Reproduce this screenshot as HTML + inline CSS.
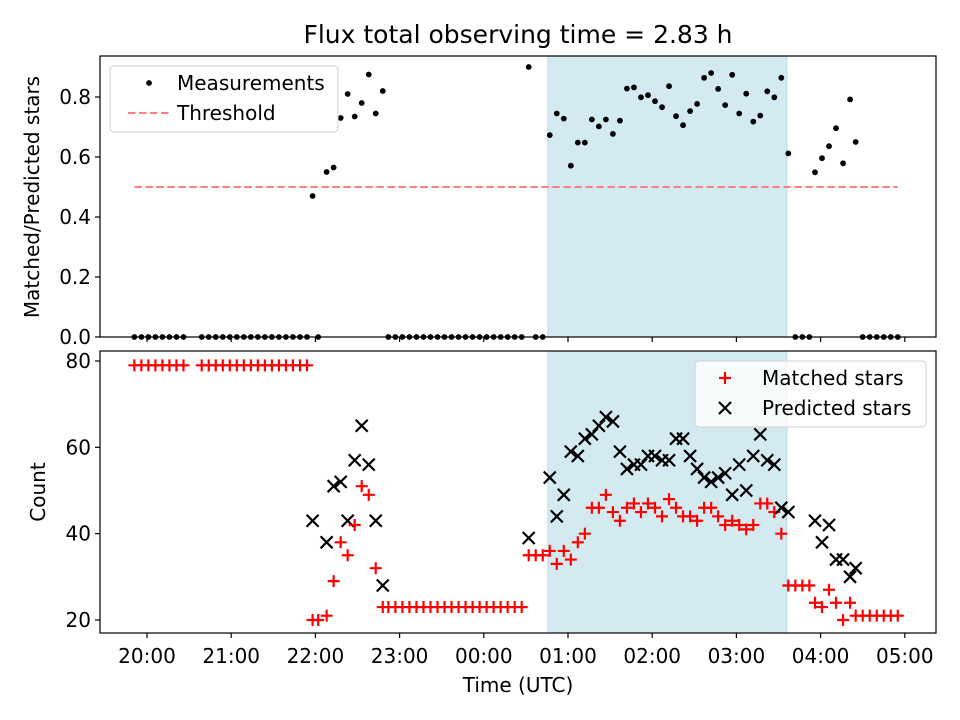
<!DOCTYPE html>
<html><head><meta charset="utf-8"><style>
html,body{margin:0;padding:0;background:#fff;}
svg{display:block;font-family:"DejaVu Sans","Liberation Sans",sans-serif;}
</style></head><body>
<svg id="chart" width="960" height="720" viewBox="0 0 960 720">
<rect width="960" height="720" fill="#fff"/>
<text x="518" y="43" font-size="25" text-anchor="middle">Flux total observing time = 2.83 h</text>
<g id="topPanel"></g>
<g id="botPanel"></g>
<text x="518" y="692" font-size="20" text-anchor="middle">Time (UTC)</text>
<text transform="translate(39,197) rotate(-90)" font-size="20" text-anchor="middle">Matched/Predicted stars</text>
<text transform="translate(45,492) rotate(-90)" font-size="20" text-anchor="middle">Count</text>
</svg>
<script>
// minutes after 20:00 UTC
const times = [-9,-4,1,6,11,16,21,26, 39,44,49,54,59,64,69,74,79,84,89,94,99,104,109,114, 118,122,128,133,138,143,148,153,158,163,168, 172,177,182,187,192,197,202,207,212,217,222,227,232,237,242,247,252,257,262,267, 272,277,282, 287,292,297,302,307,312,317,322,327,332,337,342,347,352,357,362,367,372,377,382,387,392,397,402,407,412,417,422,427,432,437,442,447,452,457, 462,467,472, 476,481,486,491,496,501,505, 510,515,520,525,530,535];
const ratio = [0,0,0,0,0,0,0,0, 0,0,0,0,0,0,0,0,0,0,0,0,0,0,0,0, .47,0,.55,.565,.73,.81,.735,.78,.875,.745,.82, 0,0,0,0,0,0,0,0,0,0,0,0,0,0,0,0,0,0,0,0, .9,0,0, .673,.745,.728,.571,.648,.648,.725,.702,.725,.677,.721,.828,.832,.799,.806,.786,.766,.836,.736,.706,.753,.777,.864,.880,.827,.773,.874,.745,.811,.718,.738,.819,.799,.864,.612, 0,0,0, .549,.596,.636,.696,.579,.792,.650, 0,0,0,0,0,0];
const matched = [79,79,79,79,79,79,79,79, 79,79,79,79,79,79,79,79,79,79,79,79,79,79,79,79, 20,20,21,29,38,35,42,51,49,32,23, 23,23,23,23,23,23,23,23,23,23,23,23,23,23,23,23,23,23,23,23, 35,35,35, 36,33,36,34,38,40,46,46,49,45,43,46,47,45,47,46,44,48,46,44,44,43,46,46,44,42,43,42,41,42,47,47,45,40,28, 28,28,28, 24,23,27,24,20,24,21, 21,21,21,21,21,21];
const predicted = [null,null,null,null,null,null,null,null, null,null,null,null,null,null,null,null,null,null,null,null,null,null,null,null, 43,null,38,51,52,43,57,65,56,43,28, null,null,null,null,null,null,null,null,null,null,null,null,null,null,null,null,null,null,null,null, 39,null,null, 53,44,49,59,58,62,63,65,67,66,59,55,56,56,58,58,57,57,62,62,58,55,53,52,53,54,49,56,50,58,63,57,56,46,45, null,null,null, 43,38,42,34,34,30,32, null,null,null,null,null,null];
const threshold = 0.5;
const shadeRange = [285.7, 456];
const xTickLabels = ["20:00","21:00","22:00","23:00","00:00","01:00","02:00","03:00","04:00","05:00"];
const xTickValues = [0,60,120,180,240,300,360,420,480,540];
const ratioTicks = [0,0.2,0.4,0.6,0.8];
const countTicks = [20,40,60,80];

const NS="http://www.w3.org/2000/svg";
function mk(p,tag,attrs){const e=document.createElementNS(NS,tag);for(const k in attrs)e.setAttribute(k,attrs[k]);p.appendChild(e);return e;}
const L=100,R=936;
const xs=m=>147+m*84.2/60;
const topG=document.getElementById('topPanel'), botG=document.getElementById('botPanel');
const T={y0:56,y1:337}, B={y0:351,y1:633};
const yr=v=>337-v*300;
const yc=v=>361+(80-v)*259/60;
const S=6;

function panel(g,P,ticks,yf,fmt,showXLabels,nm){
  const sh=mk(g,'rect',{x:xs(shadeRange[0]),y:P.y0,width:xs(shadeRange[1])-xs(shadeRange[0]),height:P.y1-P.y0,fill:'#d4eaf1',stroke:'#b8dbe6','stroke-width':1});
  
  
  ticks.forEach(v=>{
    const y=yf(v);
    mk(g,'line',{x1:L-5,x2:L,y1:y,y2:y,stroke:'#000','stroke-width':1.2});
    const t=mk(g,'text',{x:L-9,y:y+7,'font-size':20,'text-anchor':'end'});
    t.textContent=fmt(v);
    
    
  });
  xTickValues.forEach((v,i)=>{
    const x=xs(v);
    mk(g,'line',{x1:x,x2:x,y1:P.y1,y2:P.y1+5,stroke:'#000','stroke-width':1.2});
    if(showXLabels){const t=mk(g,'text',{x:x,y:P.y1+30,'font-size':20,'text-anchor':'middle'});t.textContent=xTickLabels[i];
      
      }
  });
}
panel(topG,T,ratioTicks,yr,v=>v.toFixed(1),false,'top');
panel(botG,B,countTicks,yc,v=>String(v),true,'bottom');

const th=mk(topG,'line',{x1:xs(times[0]),x2:xs(times[times.length-1]),y1:yr(threshold),y2:yr(threshold),stroke:'#ff8080','stroke-width':2,'stroke-dasharray':'7.5,3.5'});



times.forEach((m,i)=>{
  const x=xs(m);
  const c=mk(topG,'circle',{cx:x,cy:yr(ratio[i]),r:2.9,fill:'#000'});
  
  
  const y=yc(matched[i]);
  const p=mk(botG,'path',{d:`M${x-S},${y}H${x+S}M${x},${y-S}V${y+S}`,stroke:'#ff0000','stroke-width':2.2,fill:'none'});
  
  
  if(predicted[i]!=null){
    const yy=yc(predicted[i]);
    const q=mk(botG,'path',{d:`M${x-S},${yy-S}L${x+S},${yy+S}M${x-S},${yy+S}L${x+S},${yy-S}`,stroke:'#000','stroke-width':2.2,fill:'none'});
    
    
  }
});

[[topG,T],[botG,B]].forEach(([g,P])=>{
  const f=mk(g,'rect',{x:L,y:P.y0,width:R-L,height:P.y1-P.y0,fill:'none',stroke:'#000','stroke-width':1.2});
  
  
});

function legend(g,x,y,w,h,items,nm){
  const lg=mk(g,'g',{});
  
  
  mk(lg,'rect',{x:x,y:y,width:w,height:h,rx:4,fill:'rgba(255,255,255,0.8)',stroke:'#d0d0d0','stroke-width':1});
  items.forEach((it,i)=>{
    const cy=y+17+i*30;
    it.draw(lg,x+30,cy);
    const t=mk(lg,'text',{x:x+67,y:cy+7,'font-size':20});
    t.textContent=it.label;
    
    
  });
}
legend(topG,110,66,228,66,[
  {label:'Measurements',draw:(g,x,y)=>mk(g,'circle',{cx:x+9,cy:y,r:2.9,fill:'#000'})},
  {label:'Threshold',draw:(g,x,y)=>mk(g,'line',{x1:x-12,x2:x+30,y1:y,y2:y,stroke:'#ff8080','stroke-width':2,'stroke-dasharray':'7.5,3.5'})}
],'ratio-legend');
legend(botG,695,361,231,66,[
  {label:'Matched stars',draw:(g,x,y)=>mk(g,'path',{d:`M${x-S},${y}H${x+S}M${x},${y-S}V${y+S}`,stroke:'#f00','stroke-width':2.2})},
  {label:'Predicted stars',draw:(g,x,y)=>mk(g,'path',{d:`M${x-S},${y-S}L${x+S},${y+S}M${x-S},${y+S}L${x+S},${y-S}`,stroke:'#000','stroke-width':2.2})}
],'count-legend');
</script>
</body></html>
